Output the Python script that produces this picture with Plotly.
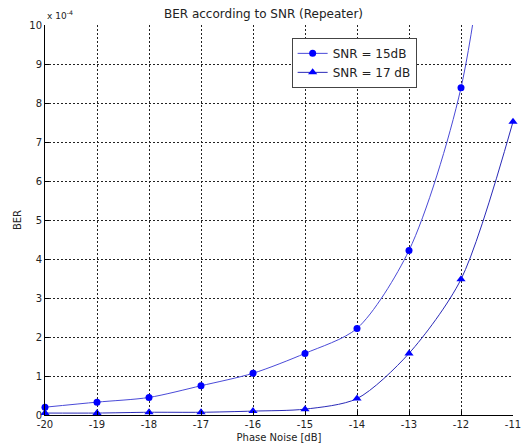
import plotly.graph_objects as go

phase_noise = [-20, -19, -18, -17, -16, -15, -14, -13, -12, -11]
ber_15db = [0.20, 0.33, 0.45, 0.75, 1.07, 1.58, 2.22, 4.22, 8.39, 18.0]   # x 1e-4
ber_17db = [0.05, 0.05, 0.07, 0.07, 0.10, 0.15, 0.42, 1.58, 3.48, 7.52]   # x 1e-4
y_ticks = list(range(0, 11))
x_ticks = phase_noise

font = "DejaVu Sans, Arial, sans-serif"

fig = go.Figure()
fig.add_trace(go.Scatter(
    x=phase_noise, y=ber_15db, name="SNR = 15dB", mode="lines+markers",
    line=dict(color="#4a4ad8", width=1, shape="spline", smoothing=0.8),
    marker=dict(symbol="circle", size=7, color="#0000ff"),
    cliponaxis=False,
))
fig.add_trace(go.Scatter(
    x=phase_noise, y=ber_17db, name="SNR = 17 dB", mode="lines+markers",
    line=dict(color="#2a2ab8", width=1, shape="spline", smoothing=0.8),
    marker=dict(symbol="triangle-up", size=8, color="#0000ff"),
    cliponaxis=False,
))

grid = dict(showgrid=True, gridcolor="#222", griddash="2px,2px", gridwidth=1,
            showline=True, linecolor="black", linewidth=1,
            ticks="inside", ticklen=4, tickcolor="black",
            zeroline=False, tickfont=dict(size=10, family=font),
            ticklabeloverflow="allow")

fig.update_layout(
    width=527, height=447,
    margin=dict(l=45, r=6, t=25, b=31),
    paper_bgcolor="white", plot_bgcolor="white",
    font=dict(family=font, size=10, color="#222"),
    title=dict(text="BER according to SNR (Repeater)", x=0.5, xanchor="center",
               y=0.97, yanchor="middle", font=dict(size=12, color="#222")),
    showlegend=True,
    legend=dict(x=0.527, y=0.967, xanchor="left", yanchor="top",
                bgcolor="white", bordercolor="#444", borderwidth=1,
                font=dict(size=12, color="#222"), itemwidth=30,
                tracegroupgap=0),
    xaxis=dict(range=[-20, -11], tickvals=x_ticks, ticktext=[str(v) for v in x_ticks],
               title=dict(text="Phase Noise [dB]", font=dict(size=10), standoff=4),
               **grid),
    yaxis=dict(range=[0, 10], tickvals=y_ticks, ticktext=[str(v) for v in y_ticks],
               title=dict(text="BER", font=dict(size=10), standoff=5),
               **grid),
)
fig.add_annotation(text="x 10<sup>-4</sup>", xref="paper", yref="paper",
                   x=0.0, y=1.0, xanchor="left", yanchor="bottom", yshift=2,
                   showarrow=False, font=dict(size=9, color="#222"))

fig.write_html("out.html")
